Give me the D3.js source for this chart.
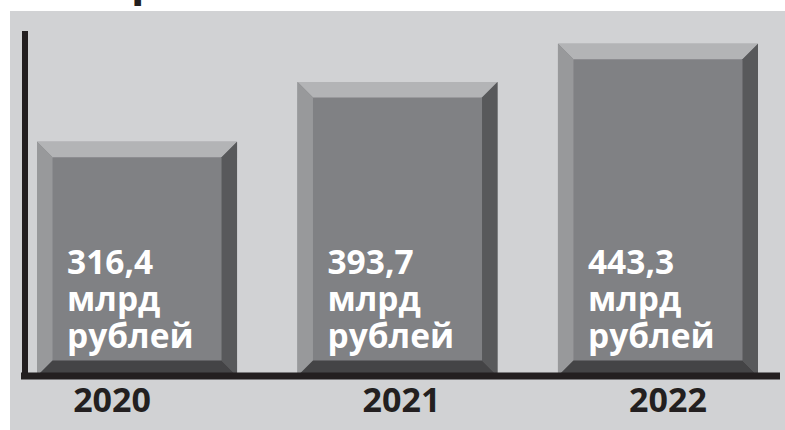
<!DOCTYPE html>
<html>
<head>
<meta charset="utf-8">
<script src="https://cdn.jsdelivr.net/npm/d3@7"></script>
<style>
  html, body { margin: 0; padding: 0; background: #fff; }
  svg { display: block; }
</style>
</head>
<body>
<svg id="chart" width="785" height="430"></svg>
<script>
const years = ['2020', '2021', '2022'];
const values = [316.4, 393.7, 443.3];
const valueLabels = ['316,4', '393,7', '443,3'];
const unitLines = ['млрд', 'рублей'];
// year labels are not centred under the bars in the original
const yearShift = [-25, 4, 10];

const width = 785;
const height = 430;
const bevel = 15.5;
const baseY = 376;

const svg = d3.select('#chart');

// grey panel
svg.append('rect')
  .attr('x', 10).attr('y', 11)
  .attr('width', width - 10).attr('height', height - 11)
  .attr('fill', '#d1d2d4');

// tail of the cropped title above the panel
svg.append('text')
  .attr('x', 131).attr('y', -5)
  .attr('font-family', 'Open Sans')
  .attr('font-weight', 700)
  .attr('font-size', 44)
  .attr('fill', '#231f20')
  .text('р');

const x = d3.scaleBand()
  .domain(years)
  .range([37, 758])
  .paddingInner(0.232)
  .paddingOuter(0);

const y = d3.scaleLinear()
  .domain([0, 500])
  .range([386, 0]);

const data = years.map((year, i) => ({year, value: values[i], label: valueLabels[i], i}));

const bars = svg.append('g')
  .selectAll('g')
  .data(data)
  .join('g');

const pts = d => {
  const x0 = x(d.year), x1 = x0 + x.bandwidth();
  const y0 = y(d.value), y1 = baseY;
  return {x0, x1, y0, y1};
};

// face
bars.append('rect')
  .attr('x', d => pts(d).x0)
  .attr('y', d => pts(d).y0)
  .attr('width', x.bandwidth())
  .attr('height', d => baseY - pts(d).y0)
  .attr('fill', '#808184');

const bevels = [
  {fill: '#b3b4b6', f: p => [[p.x0, p.y0], [p.x1, p.y0], [p.x1 - bevel, p.y0 + bevel], [p.x0 + bevel, p.y0 + bevel]]},
  {fill: '#98999b', f: p => [[p.x0, p.y0], [p.x0 + bevel, p.y0 + bevel], [p.x0 + bevel, p.y1 - bevel], [p.x0, p.y1]]},
  {fill: '#58595b', f: p => [[p.x1, p.y0], [p.x1 - bevel, p.y0 + bevel], [p.x1 - bevel, p.y1 - bevel], [p.x1, p.y1]]},
  {fill: '#444446', f: p => [[p.x0, p.y1], [p.x0 + bevel, p.y1 - bevel], [p.x1 - bevel, p.y1 - bevel], [p.x1, p.y1]]}
];

bevels.forEach(b => {
  bars.append('polygon')
    .attr('points', d => b.f(pts(d)).map(p => p.join(',')).join(' '))
    .attr('fill', b.fill);
});

// value labels
const labels = bars.append('text')
  .attr('font-family', 'Open Sans')
  .attr('font-weight', 700)
  .attr('font-size', 33.5)
  .attr('fill', '#ffffff')
  .attr('x', d => x(d.year) + 30);

labels.append('tspan')
  .attr('x', d => x(d.year) + 30)
  .attr('y', 274)
  .text(d => d.label);

unitLines.forEach((t, k) => {
  labels.append('tspan')
    .attr('x', d => x(d.year) + 30)
    .attr('y', 274 + 37 * (k + 1))
    .text(t);
});

// axes
svg.append('line')
  .attr('x1', 25).attr('x2', 25)
  .attr('y1', 31).attr('y2', 379)
  .attr('stroke', '#231f20')
  .attr('stroke-width', 6);

svg.append('line')
  .attr('x1', 21).attr('x2', 780)
  .attr('y1', baseY).attr('y2', baseY)
  .attr('stroke', '#231f20')
  .attr('stroke-width', 7);

// year labels
svg.append('g')
  .selectAll('text')
  .data(data)
  .join('text')
  .attr('x', d => x(d.year) + x.bandwidth() / 2 + yearShift[d.i])
  .attr('y', 412)
  .attr('text-anchor', 'middle')
  .attr('font-family', 'Open Sans')
  .attr('font-weight', 700)
  .attr('font-size', 34)
  .attr('fill', '#231f20')
  .text(d => d.year);
</script>
</body>
</html>
